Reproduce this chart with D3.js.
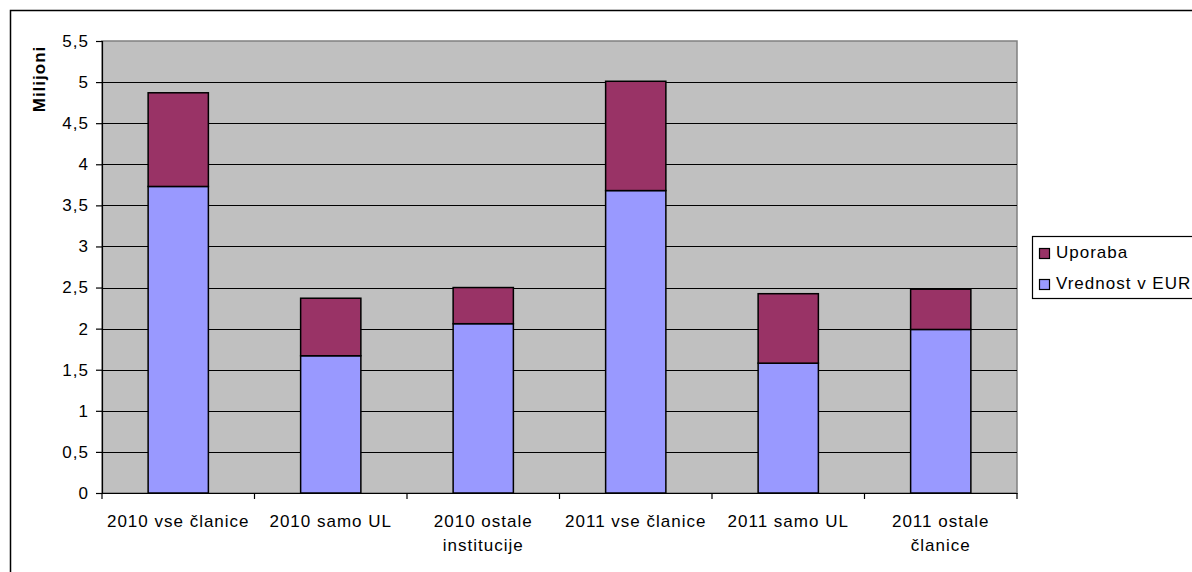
<!DOCTYPE html>
<html>
<head>
<meta charset="utf-8">
<script src="https://cdn.jsdelivr.net/npm/d3@7"></script>
<style>
  html, body { margin: 0; padding: 0; background: #fff; }
  svg { display: block; }
  text { font-family: "Liberation Sans", Arial, sans-serif; fill: #000; }
</style>
</head>
<body>
<svg id="chart" width="1192" height="572"></svg>
<script>
const categories = ["2010 vse članice", "2010 samo UL", "2010 ostale institucije", "2011 vse članice", "2011 samo UL", "2011 ostale članice"];
const vrednost = [3.73, 1.67, 2.06, 3.68, 1.58, 1.99];
const uporaba = [1.14, 0.70, 0.44, 1.33, 0.845, 0.49];
const seriesNames = ["Vrednost v EUR", "Uporaba"];
const seriesColors = ["#9999FF", "#993366"];
const yTicks = [0, 0.5, 1, 1.5, 2, 2.5, 3, 3.5, 4, 4.5, 5, 5.5];
const yTitle = "Milijoni";

const svg = d3.select("#chart");
const plot = { left: 102, right: 1017, top: 41, bottom: 493 };

// outer chart border
svg.append("rect")
  .attr("x", 10.5).attr("y", 10.5)
  .attr("width", 1300).attr("height", 700)
  .attr("fill", "#fff").attr("stroke", "#000").attr("stroke-width", 1.5);

const x = d3.scaleBand().domain(categories).range([plot.left, plot.right]).padding(0);
const y = d3.scaleLinear().domain([0, 5.5]).range([plot.bottom, plot.top]);

// plot background
svg.append("rect")
  .attr("x", plot.left).attr("y", plot.top)
  .attr("width", plot.right - plot.left).attr("height", plot.bottom - plot.top)
  .attr("fill", "#C0C0C0").attr("stroke", "#808080").attr("stroke-width", 1.5);

// gridlines
svg.append("g").selectAll("line")
  .data(yTicks.filter(t => t > 0 && t < 5.5))
  .join("line")
  .attr("x1", plot.left).attr("x2", plot.right)
  .attr("y1", d => Math.round(y(d)) + 0.5).attr("y2", d => Math.round(y(d)) + 0.5)
  .attr("stroke", "#000").attr("stroke-width", 1.2);

// stacked data
const table = categories.map((c, i) => ({ cat: c, v0: vrednost[i], v1: uporaba[i] }));
const stack = d3.stack().keys(["v0", "v1"])(table);
const barW = x.bandwidth() * 0.395;

stack.forEach((layer, si) => {
  svg.append("g").selectAll("rect")
    .data(layer)
    .join("rect")
    .attr("x", d => x(d.data.cat) + (x.bandwidth() - barW) / 2)
    .attr("y", d => y(d[1]))
    .attr("width", barW)
    .attr("height", d => y(d[0]) - y(d[1]))
    .attr("fill", seriesColors[si])
    .attr("stroke", "#000").attr("stroke-width", 1.5);
});

// y axis
const yAxis = svg.append("g").attr("transform", `translate(${plot.left},0)`)
  .call(d3.axisLeft(y).tickValues(yTicks).tickSize(6).tickPadding(8)
        .tickFormat(d => String(d).replace(".", ",")));
yAxis.select(".domain").attr("stroke", "#000").attr("stroke-width", 1.2);
yAxis.selectAll(".tick line").attr("stroke", "#000").attr("stroke-width", 1.2);
yAxis.selectAll(".tick text")
  .style("font-family", "'Liberation Sans', Arial, sans-serif")
  .style("font-size", "17px").style("letter-spacing", "1px")
  .attr("fill", "#000").attr("x", -13);

// x axis
const xAxis = svg.append("g").attr("transform", `translate(0,${plot.bottom})`)
  .call(d3.axisBottom(x).tickSize(0).tickFormat(""));
xAxis.select(".domain").attr("stroke", "#000").attr("stroke-width", 1.2);
// tick marks at category boundaries
const bounds = categories.map(c => x(c)).concat([plot.right]);
svg.append("g").selectAll("line").data(bounds).join("line")
  .attr("x1", d => d).attr("x2", d => d)
  .attr("y1", plot.bottom).attr("y2", plot.bottom + 6)
  .attr("stroke", "#000").attr("stroke-width", 1.2);

// x labels with wrapping
const measure = svg.append("text").style("font-size", "17px").style("letter-spacing", "1px").attr("opacity", 0);
function wrap(str, maxW) {
  const words = str.split(" ");
  const lines = [];
  let cur = "";
  words.forEach(w => {
    const test = cur ? cur + " " + w : w;
    measure.text(test);
    if (measure.node().getComputedTextLength() > maxW && cur) {
      lines.push(cur); cur = w;
    } else cur = test;
  });
  lines.push(cur);
  return lines;
}
categories.forEach(c => {
  const lines = wrap(c, 150);
  const t = svg.append("text")
    .attr("text-anchor", "middle")
    .style("font-size", "17px").style("letter-spacing", "1px");
  lines.forEach((ln, i) => {
    t.append("tspan").attr("x", x(c) + x.bandwidth() / 2).attr("y", 527 + i * 24).text(ln);
  });
});
measure.remove();

// y title
svg.append("text")
  .attr("transform", `translate(45,79) rotate(-90)`)
  .attr("text-anchor", "middle")
  .style("font-size", "17px").style("font-weight", "bold").style("letter-spacing", "1px")
  .text(yTitle);

// legend
const legend = svg.append("g");
legend.append("rect")
  .attr("x", 1032.5).attr("y", 236.5).attr("width", 200).attr("height", 62)
  .attr("fill", "#fff").attr("stroke", "#000").attr("stroke-width", 1.2);
const legendItems = [1, 0];
legendItems.forEach((si, i) => {
  const yy = 248 + i * 31;
  legend.append("rect")
    .attr("x", 1039.5).attr("y", yy + 0.5).attr("width", 10).attr("height", 10)
    .attr("fill", seriesColors[si]).attr("stroke", "#000").attr("stroke-width", 1.2);
  legend.append("text")
    .attr("x", 1056).attr("y", yy + 10)
    .style("font-size", "17px").style("letter-spacing", "1px")
    .text(seriesNames[si]);
});
</script>
</body>
</html>
